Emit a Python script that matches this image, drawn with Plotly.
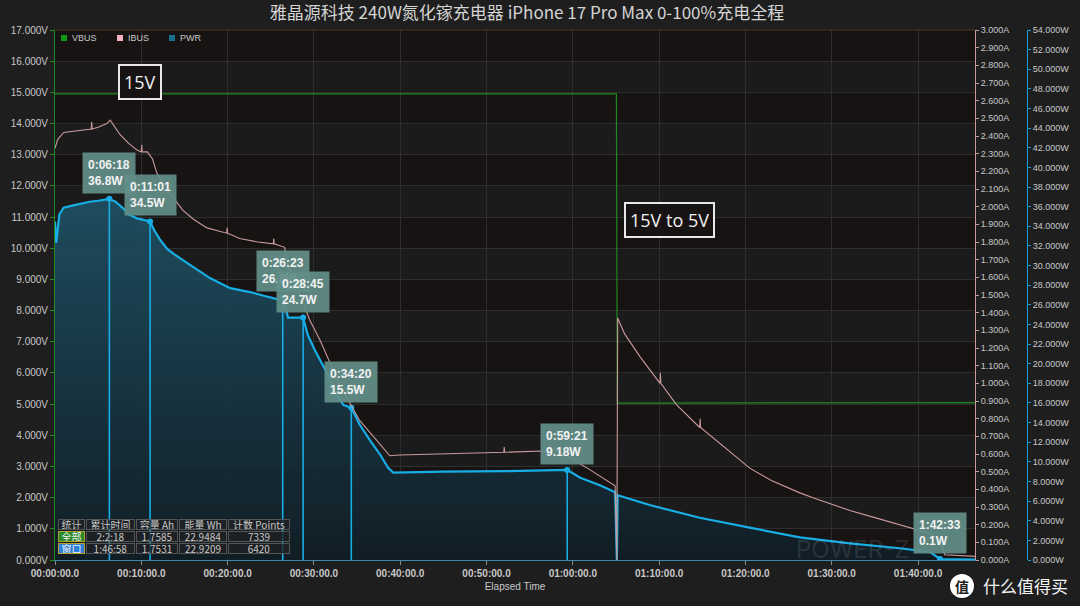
import plotly.graph_objects as go

# ---------------- data ----------------
title_text = "雅晶源科技 240W氮化镓充电器 iPhone 17 Pro Max 0-100%充电全程"

# elapsed time in minutes
t_vbus = [0.0, 0.05, 20.0, 40.0, 65.05, 65.15, 80.0, 95.0, 106.9]
vbus = [14.95, 14.95, 14.94, 14.95, 14.95, 5.03, 5.03, 5.04, 5.05]

t_ibus = [0.0, 0.3, 1.0, 3.0, 4.2, 4.25, 4.3, 5.0, 6.0, 6.4, 7.0, 7.5, 8.5, 9.5, 10.0, 10.05, 10.1, 10.7,
          11.3, 11.8, 12.8, 13.7, 14.8, 16.0, 17.6, 19.9, 19.95, 20.0, 21.4, 23.5, 25.3, 25.35, 25.4,
          26.6, 27.0, 28.4, 29.5, 30.7, 33.0, 35.3, 37.7, 38.8, 39.9, 45.0, 49.2, 52.0, 52.05, 52.1,
          58.5, 59.3, 62.0, 64.9, 65.1, 65.2, 66.0, 67.8, 70.1, 70.15, 70.2, 72.0, 74.7, 74.75, 74.8,
          77.0, 80.5, 83.0, 86.3, 88.0, 92.1, 95.0, 97.9, 101.4, 102.5, 103.1, 106.9]
ibus = [2.33, 2.38, 2.42, 2.43, 2.44, 2.48, 2.44, 2.45, 2.47, 2.49, 2.45, 2.41, 2.36, 2.32, 2.31, 2.35,
        2.31, 2.31, 2.27, 2.19, 2.11, 2.05, 1.98, 1.93, 1.88, 1.85, 1.88, 1.85, 1.82, 1.80, 1.79, 1.82,
        1.79, 1.77, 1.67, 1.50, 1.36, 1.245, 0.99, 0.79, 0.65, 0.59, 0.594, 0.60, 0.605, 0.61, 0.64,
        0.61, 0.62, 0.59, 0.51, 0.42, 0.0, 1.37, 1.28, 1.15, 1.00, 1.06, 1.00, 0.88, 0.75, 0.80, 0.75,
        0.66, 0.52, 0.45, 0.38, 0.35, 0.28, 0.24, 0.20, 0.15, 0.11, 0.03, 0.02]

t_pwr = [0.0, 0.15, 0.5, 1.0, 2.0, 3.0, 4.0, 5.0, 6.3, 7.0, 7.8, 8.6, 9.5, 10.5, 11.0, 11.5, 12.2,
         13.0, 13.9, 15.6, 18.0, 20.3, 22.6, 24.3, 26.1, 26.4, 27.0, 28.75, 29.3, 30.1, 31.3, 32.4,
         33.4, 34.33, 35.3, 36.5, 37.7, 38.6, 39.2, 45.0, 52.0, 59.35, 60.8, 63.2, 64.9, 65.1,
         65.2, 68.9, 74.7, 80.5, 86.3, 92.1, 97.9, 101.4, 102.55, 106.9]
pwr = [34.5, 32.3, 35.2, 35.9, 36.1, 36.3, 36.5, 36.6, 36.8, 36.5, 35.9, 35.2, 34.8, 34.6, 34.5, 33.6,
       32.6, 31.7, 31.1, 30.1, 28.7, 27.7, 27.3, 26.9, 26.5, 26.8, 24.7, 24.7, 22.9, 21.4, 19.4, 17.3,
       15.8, 15.5, 13.8, 12.2, 10.7, 9.4, 8.9, 9.0, 9.05, 9.18, 8.4, 7.6, 6.9, 0.0,
       6.6, 5.6, 4.3, 3.3, 2.3, 1.7, 1.2, 0.8, 0.1, 0.05]

# cursor markers
ann_t = [6.3, 11.017, 26.383, 28.75, 34.333, 59.35, 102.55]
ann_w = [36.8, 34.5, 26.8, 24.7, 15.5, 9.18, 0.1]
ann_labels = ["0:06:18", "0:11:01", "0:26:23", "0:28:45", "0:34:20", "0:59:21", "1:42:33"]

x_tickvals = [0, 10, 20, 30, 40, 50, 60, 70, 80, 90, 100]
x_ticktext = ["00:00:00.0", "00:10:00.0", "00:20:00.0", "00:30:00.0", "00:40:00.0", "00:50:00.0",
              "01:00:00.0", "01:10:00.0", "01:20:00.0", "01:30:00.0", "01:40:00.0"]

legend_names = ["VBUS", "IBUS", "PWR"]

tbl_header = ["统计", "累计时间", "容量 Ah", "能量 Wh", "计数 Points"]
tbl_all = ["全部", "2:2:18", "1.7585", "22.9484", "7339"]
tbl_win = ["窗口", "1:46:58", "1.7531", "22.9209", "6420"]

# ---------------- style ----------------
GREEN = "#1f8a1f"
PINK = "#c99a9c"
BLUE = "#17aee6"
TXT = "#c8c8c8"
FONT = "Liberation Sans"
CJK = "Noto Sans CJK SC"

ML, MR, MT, MB = 55, 5, 30, 46
W, H = 1080, 606
PW = W - ML - MR
PH = H - MT - MB


def px(xp):
    return (xp - ML) / PW


def py(yp):
    return (MT + PH - yp) / PH


x_dom_end = px(975)

fig = go.Figure()

fig.add_trace(go.Scatter(x=t_vbus, y=vbus, yaxis="y", mode="lines", name="VBUS",
                         line=dict(color=GREEN, width=1.2), showlegend=False, hoverinfo="skip"))

fig.add_trace(go.Scatter(x=t_pwr, y=pwr, yaxis="y2", mode="lines", name="PWR",
                         line=dict(color=BLUE, width=2.2), fill="tozeroy",
                         fillgradient=dict(type="vertical", start=0, stop=37,
                                           colorscale=[[0, "rgba(16,30,38,0.9)"], [1, "rgba(30,82,102,0.9)"]]),
                         showlegend=False, hoverinfo="skip"))

cx, cy = [], []
for t, w in zip(ann_t, ann_w):
    cx += [t, t, None]
    cy += [0, w, None]
fig.add_trace(go.Scatter(x=cx, y=cy, yaxis="y2", mode="lines",
                         line=dict(color=BLUE, width=1.6), showlegend=False, hoverinfo="skip"))
fig.add_trace(go.Scatter(x=ann_t, y=ann_w, yaxis="y2", mode="markers",
                         marker=dict(color=BLUE, size=6), showlegend=False, hoverinfo="skip"))

fig.add_trace(go.Scatter(x=t_ibus, y=ibus, yaxis="y3", mode="lines", name="IBUS",
                         line=dict(color=PINK, width=1.1), showlegend=False, hoverinfo="skip"))

shapes = []
annotations = []

# legend (squares + labels, placed like the reference's compact legend)
for name, col, xs in zip(legend_names, ["#119a11", "#f2b0c0", "#17708f"], [64, 120, 172]):
    shapes.append(dict(type="rect", xref="paper", yref="paper", x0=px(xs - 3), x1=px(xs + 3),
                       y0=py(41), y1=py(35), fillcolor=col, line=dict(width=0)))
    annotations.append(dict(x=px(xs + 6), y=py(38), xref="paper", yref="paper", text=name, showarrow=False,
                            xanchor="left", yanchor="middle", font=dict(family=FONT, size=9, color=TXT)))

# background bands
for k in range(1, 17, 2):
    shapes.append(dict(type="rect", xref="x domain", yref="y", x0=0, x1=1, y0=k, y1=k + 1,
                       fillcolor="#1c1b1b", line=dict(width=0), layer="below"))
shapes.append(dict(type="line", xref="x domain", yref="y domain", x0=0, x1=1, y0=1, y1=1,
                   line=dict(color="#4a3426", width=1)))

# cursor labels
for t, w, lab in zip(ann_t, ann_w, ann_labels):
    annotations.append(dict(x=t, y=w, xref="x", yref="y2", text=f"{lab}<br>{w}W", showarrow=False,
                            xanchor="center", yanchor="bottom", yshift=5, align="left",
                            bgcolor="rgba(98,142,136,0.93)", borderpad=5,
                            font=dict(family=FONT, size=12, color="#f2f2f2", weight="bold")))

# boxed notes
for txt, xp, yp in [("15V", 140, 82), ("15V to 5V", 669, 220)]:
    annotations.append(dict(x=px(xp), y=py(yp), xref="paper", yref="paper", text=txt, showarrow=False,
                            xanchor="center", yanchor="middle", bgcolor="#171313", bordercolor="#e8e8e8",
                            borderwidth=2, borderpad=4, font=dict(family="Open Sans", size=18, color="#f0f0f0")))

# stats table (cells as boxed annotations)
col_edges = [57, 85, 135, 178, 227, 290]
row_edges = [518, 530, 542, 554]
for r, row in enumerate([tbl_header, tbl_all, tbl_win]):
    yc = (row_edges[r] + row_edges[r + 1]) / 2
    for c, txt in enumerate(row):
        xc = (col_edges[c] + col_edges[c + 1]) / 2
        bg = "rgba(32,32,34,0.78)"
        bc = "#555555"
        col = TXT
        if c == 0 and r == 1:
            bg, bc, col = "#2a8a2a", "#b8a030", "#f4f4f4"
        elif c == 0 and r == 2:
            bg, bc, col = "#2e7fd8", "#b8a030", "#f4f4f4"
        annotations.append(dict(x=px(xc), y=py(yc), xref="paper", yref="paper", text=txt, showarrow=False,
                                xanchor="center", yanchor="middle",
                                width=col_edges[c + 1] - col_edges[c] - 3,
                                height=row_edges[r + 1] - row_edges[r] - 3,
                                bgcolor=bg, bordercolor=bc, borderwidth=1, borderpad=0,
                                font=dict(family=CJK, size=10, color=col)))

# watermarks
annotations.append(dict(x=px(852), y=py(549), xref="paper", yref="paper", text="POWER-Z", showarrow=False,
                        xanchor="center", yanchor="middle",
                        font=dict(family="Inter", size=24, color="rgba(200,200,200,0.15)")))
shapes.append(dict(type="circle", xref="paper", yref="paper", x0=px(950), x1=px(974), y0=py(598), y1=py(574),
                   fillcolor="#ffffff", line=dict(width=0), layer="below"))
annotations.append(dict(x=px(962), y=py(586), xref="paper", yref="paper", text="值", showarrow=False,
                        xanchor="center", yanchor="middle",
                        font=dict(family=CJK, size=14, color="#1e1e1e", weight="bold")))
annotations.append(dict(x=px(1025), y=py(585), xref="paper", yref="paper", text="什么值得买", showarrow=False,
                        xanchor="center", yanchor="middle",
                        font=dict(family=CJK, size=17, color="#f4f4f4")))

fig.update_layout(
    width=W, height=H,
    margin=dict(l=ML, r=MR, t=MT, b=MB),
    paper_bgcolor="#1e1e1e",
    plot_bgcolor="#171313",
    title=dict(text=title_text, x=527 / W, xref="container", xanchor="center", y=1 - 13 / H, yanchor="middle",
               font=dict(family=CJK, size=17, color="#d4d4d4")),
    showlegend=False,
    xaxis=dict(domain=[0, x_dom_end], range=[0, 106.6], tickvals=x_tickvals, ticktext=x_ticktext,
               showgrid=True, gridcolor="#2e2e2e", gridwidth=1, zeroline=False,
               ticks="outside", ticklen=4, tickcolor="#888888", showline=True, linecolor="#3a8aaa",
               tickfont=dict(family=FONT, size=10, color=TXT, weight="bold"),
               title=dict(text="Elapsed Time", font=dict(family=FONT, size=10, color=TXT), standoff=4)),
    yaxis=dict(range=[0, 17], dtick=1, tick0=0, tickformat=".3f", ticksuffix="V",
               showgrid=True, gridcolor="#2e2e2e", zeroline=False, showline=True, linecolor=GREEN,
               ticks="outside", ticklen=4, tickcolor=GREEN,
               tickfont=dict(family=FONT, size=10, color=TXT)),
    yaxis2=dict(range=[0, 54], dtick=2, tick0=0, tickformat=".3f", ticksuffix="W", overlaying="y",
                side="right", anchor="free", position=px(1027), showgrid=False, zeroline=False,
                showline=True, linecolor="#1a9ad0", ticks="outside", ticklen=3, tickcolor="#1a9ad0",
                tickfont=dict(family=FONT, size=9, color=TXT)),
    yaxis3=dict(range=[0, 3], dtick=0.1, tick0=0, tickformat=".3f", ticksuffix="A", overlaying="y",
                side="right", anchor="x", showgrid=False, zeroline=False,
                showline=True, linecolor=PINK, ticks="outside", ticklen=3, tickcolor=PINK,
                tickfont=dict(family=FONT, size=9, color=TXT)),
    shapes=shapes,
    annotations=annotations,
)

fig.write_html("out.html")
